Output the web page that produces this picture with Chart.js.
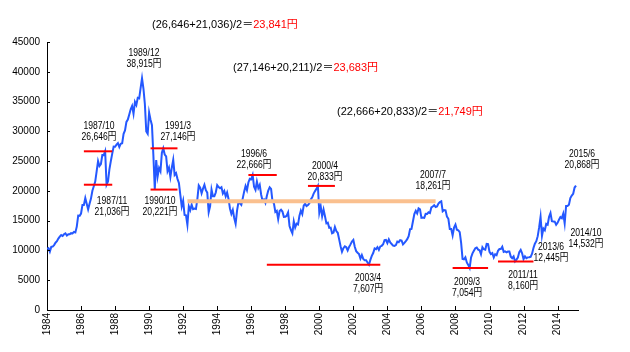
<!DOCTYPE html>
<html>
<head>
<meta charset="utf-8">
<script src="https://cdn.jsdelivr.net/npm/chart.js@4.4.1/dist/chart.umd.min.js"></script>
<style>
  html, body { margin: 0; padding: 0; background: #fff; }
  #wrap { width: 630px; height: 352px; }
</style>
</head>
<body>
<div id="wrap"><canvas id="chart-nikkei" width="630" height="352"></canvas></div>
<script>
// nikkei average, one value per month, first value is 1984/5
const startYear = 1984;
const startMonth = 5;
const nikkei = [
  10280, 10400, 9800, 10600, 10650, 10900, 11300, 11540,
  11990, 12320, 12580, 12430, 12720, 12880, 12520, 12700, 12700, 12900, 12850, 13110,
  13020, 14000, 15860, 15820, 16200, 17650, 17650, 18800, 17850, 16900, 17850, 18700,
  20020, 20770, 21570, 23270, 25000, 24180, 24490, 26030, 26010, 26646, 21036, 21560,
  23620, 24990, 26260, 27430, 27420, 27770, 28020, 27370, 27920, 27990, 29580, 30160,
  31580, 31985, 32840, 33710, 34270, 32950, 34950, 34430, 35640, 35550, 37270, 38915,
  37190, 34590, 29980, 29580, 33130, 31940, 31040, 25980, 20221, 25190, 22450, 23850,
  23290, 26410, 27146, 26110, 25790, 23290, 23900, 22340, 23920, 25220, 22690, 22980,
  22020, 21340, 19350, 17390, 18350, 15950, 15910, 14309, 17400, 16770, 17680, 16920,
  17020, 16950, 18590, 20920, 20550, 19590, 20380, 21030, 20110, 19700, 16410, 17420,
  20230, 19110, 19110, 19730, 20970, 20640, 20450, 20630, 19560, 19990, 19080, 19720,
  18650, 17050, 16140, 16810, 15440, 14485, 16680, 18120, 17910, 17650, 18740, 19870,
  20810, 20130, 21410, 22040, 21960, 22666, 20690, 20170, 21560, 20470, 21020, 19360,
  18330, 18560, 18000, 19150, 20070, 20600, 20330, 18230, 17890, 16460, 16640, 15260,
  16630, 16830, 16530, 15640, 15670, 15830, 16380, 14110, 13410, 12880, 14880, 13840,
  14500, 14370, 15840, 16700, 16110, 17530, 17860, 17440, 17610, 17940, 18560, 18930,
  19540, 19960, 20340, 20833, 16330, 17410, 15730, 16860, 15750, 14540, 14650, 13790,
  13840, 12880, 13000, 13930, 13260, 12970, 11860, 10710, 9770, 10370, 10700, 10540,
  10000, 10590, 11020, 11490, 11760, 10620, 9880, 9620, 9380, 8640, 9220, 8580,
  8340, 8360, 7970, 7607, 8420, 9080, 9560, 10340, 10220, 10560, 10100, 10680,
  10780, 11040, 11720, 11760, 11240, 11860, 11330, 11080, 10820, 10770, 10900, 11490,
  11390, 11740, 11670, 11010, 11280, 11580, 11900, 12410, 13570, 13610, 14870, 16110,
  16650, 16210, 17060, 16910, 15470, 15510, 15460, 16140, 16130, 16400, 16270, 17230,
  17380, 17600, 17290, 17400, 17880, 18140, 18261, 16570, 16790, 16740, 15680, 15310,
  13590, 13600, 12530, 13850, 14340, 13480, 13380, 13070, 11260, 8580, 8510, 8860,
  7990, 7570, 7054, 8830, 9520, 9960, 10360, 10490, 10130, 10030, 9350, 10550,
  10200, 10130, 11090, 11060, 9770, 9380, 9540, 8820, 9370, 9200, 9940, 10230,
  10240, 10620, 9760, 9850, 9690, 9820, 9830, 8960, 8700, 8990, 8160, 8460,
  8800, 9720, 10080, 9520, 8540, 9010, 8700, 8840, 8870, 8930, 9450, 10400,
  11140, 11560, 12400, 13860, 15630, 12445, 13670, 13390, 14460, 14330, 15660, 16290,
  14910, 14840, 14830, 14300, 14630, 15160, 15620, 15420, 16170, 14532, 17460, 17450,
  17670, 18800, 19210, 19520, 20560, 20868
];

const tickYears = [1984, 1986, 1988, 1990, 1992, 1994, 1996, 1998, 2000, 2002, 2004, 2006, 2008, 2010, 2012, 2014];

// red level lines: from, to, value
const redLines = [
  ['1986/7', '1988/3', 26646],
  ['1986/7', '1988/3', 21036],
  ['1990/6', '1992/1', 27146],
  ['1990/6', '1992/1', 20221],
  ['1996/3', '1997/11', 22666],
  ['1999/9', '2001/4', 20833],
  ['1997/4', '2003/12', 7607],
  ['2008/3', '2010/4', 7054],
  ['2010/11', '2012/12', 8160]
];
// orange line
const avgLine = ['1992/8', '2007/3', 18261];

// peak / bottom notes
const notes = [
  ['1989/12', '38,915円'],
  ['1987/10', '26,646円'],
  ['1991/3', '27,146円'],
  ['1996/6', '22,666円'],
  ['2000/4', '20,833円'],
  ['2007/7', '18,261円'],
  ['2015/6', '20,868円'],
  ['1987/11', '21,036円'],
  ['1990/10', '20,221円'],
  ['2003/4', '7,607円'],
  ['2009/3', '7,054円'],
  ['2011/11', '8,160円'],
  ['2013/6', '12,445円'],
  ['2014/10', '14,532円']
];
const notePos = [
  [144, 53], [99, 126], [178, 126], [254, 154], [325, 166], [433, 175], [582, 154],
  [112, 201], [160, 201], [368, 278], [467, 282], [523, 275], [551, 247], [586, 233]
];

const formulas = [
  ['(26,646+21,036)/2＝', '23,841円'],
  ['(27,146+20,211)/2＝', '23,683円'],
  ['(22,666+20,833)/2＝', '21,749円']
];
const formulaPos = [[152, 25], [233, 68], [337, 112]];

const fontFamily = '"Liberation Sans", "Noto Sans CJK JP", sans-serif';

function monthIndex(s) {
  const p = s.split('/');
  return (parseInt(p[0]) - startYear) * 12 + parseInt(p[1]) - startMonth;
}

const seriesData = nikkei.map((v, i) => ({x: i, y: v}));

const datasets = [{
  label: 'nikkei',
  data: seriesData,
  borderColor: '#2458FF',
  borderWidth: 2,
  pointRadius: 0,
  tension: 0,
  order: 3
}];

datasets.push({
  label: 'avg',
  data: [{x: monthIndex(avgLine[0]), y: avgLine[2]}, {x: monthIndex(avgLine[1]), y: avgLine[2]}],
  borderColor: '#FAC08F',
  borderWidth: 4,
  pointRadius: 0,
  order: 2
});

for (let i = 0; i < redLines.length; i++) {
  const r = redLines[i];
  datasets.push({
    label: 'red' + i,
    data: [{x: monthIndex(r[0]), y: r[2]}, {x: monthIndex(r[1]), y: r[2]}],
    borderColor: '#FF0000',
    borderWidth: 2,
    pointRadius: 0,
    order: 1
  });
}

// excel style ticks inside the plot
const insideTicks = {
  id: 'insideTicks',
  afterDraw(chart) {
    const ctx = chart.ctx;
    const x = chart.scales.x;
    const y = chart.scales.y;
    ctx.save();
    ctx.strokeStyle = '#000';
    ctx.lineWidth = 1;
    ctx.beginPath();
    x.ticks.forEach(t => {
      const px = Math.round(x.getPixelForValue(t.value)) + 0.5;
      ctx.moveTo(px, x.top);
      ctx.lineTo(px, x.top - 4);
    });
    y.ticks.forEach(t => {
      const py = Math.round(y.getPixelForValue(t.value)) + 0.5;
      ctx.moveTo(y.right, py);
      ctx.lineTo(y.right + 3, py);
    });
    ctx.stroke();
    ctx.restore();
  }
};

// narrow text like the bitmap gothic in the original
function narrowText(ctx, text, x, y) {
  ctx.save();
  ctx.translate(x, y);
  ctx.scale(0.78, 1);
  ctx.fillText(text, 0, 0);
  ctx.restore();
}

const textNotes = {
  id: 'textNotes',
  afterDraw(chart) {
    const ctx = chart.ctx;
    ctx.save();
    ctx.textBaseline = 'middle';
    ctx.fillStyle = '#000';
    ctx.font = '11px ' + fontFamily;
    ctx.textAlign = 'center';
    for (let i = 0; i < notes.length; i++) {
      narrowText(ctx, notes[i][0], notePos[i][0], notePos[i][1]);
      narrowText(ctx, notes[i][1], notePos[i][0], notePos[i][1] + 11);
    }
    ctx.textAlign = 'left';
    for (let i = 0; i < formulas.length; i++) {
      const w = ctx.measureText(formulas[i][0]).width;
      ctx.fillStyle = '#000';
      ctx.fillText(formulas[i][0], formulaPos[i][0], formulaPos[i][1]);
      ctx.fillStyle = '#FF0000';
      ctx.fillText(formulas[i][1], formulaPos[i][0] + w, formulaPos[i][1]);
    }
    ctx.restore();
  }
};

const ctx = document.getElementById('chart-nikkei').getContext('2d');
const chart = new Chart(ctx, {
  type: 'line',
  data: { datasets: datasets },
  options: {
    responsive: false,
    animation: false,
    devicePixelRatio: 1,
    layout: { padding: { top: 42, right: 52, left: 0, bottom: 0 } },
    plugins: {
      legend: { display: false },
      tooltip: { enabled: false }
    },
    scales: {
      x: {
        type: 'linear',
        min: 0,
        max: 374.4,
        grid: { display: false, drawTicks: false },
        border: { display: true, color: '#000', width: 1 },
        afterBuildTicks: scale => {
          scale.ticks = tickYears.map(yr => ({ value: (yr - startYear) * 12 }));
        },
        afterFit: scale => { scale.height = 42; },
        ticks: {
          autoSkip: false,
          minRotation: 90,
          maxRotation: 90,
          padding: 3,
          color: '#000',
          font: { family: fontFamily, size: 10 },
          callback: v => String(startYear + Math.round(v / 12))
        }
      },
      y: {
        min: 0,
        max: 45000,
        grid: { display: false, drawTicks: false },
        border: { display: true, color: '#000', width: 1 },
        afterFit: scale => { scale.width = 47; },
        ticks: {
          stepSize: 5000,
          padding: 7,
          color: '#000',
          font: { family: fontFamily, size: 10 },
          callback: v => String(v)
        }
      }
    }
  },
  plugins: [insideTicks, textNotes]
});
</script>
</body>
</html>
